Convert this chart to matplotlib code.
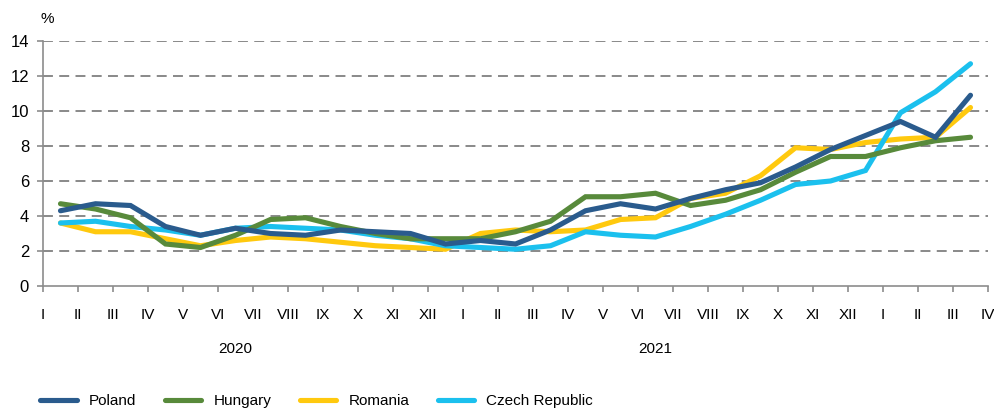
import matplotlib
matplotlib.use("Agg")
import matplotlib.pyplot as plt
import numpy as np

# CPI, y/y %, monthly from I 2020 to III 2022
poland = [4.3, 4.7, 4.6, 3.4, 2.9, 3.3, 3.0, 2.9, 3.2, 3.1, 3.0, 2.4,
          2.6, 2.4, 3.2, 4.3, 4.7, 4.4, 5.0, 5.5, 5.9, 6.8, 7.8, 8.6,
          9.4, 8.5, 10.9]
hungary = [4.7, 4.4, 3.9, 2.4, 2.2, 2.9, 3.8, 3.9, 3.4, 3.0, 2.7, 2.7,
           2.7, 3.1, 3.7, 5.1, 5.1, 5.3, 4.6, 4.9, 5.5, 6.5, 7.4, 7.4,
           7.9, 8.3, 8.5]
romania = [3.6, 3.1, 3.1, 2.7, 2.3, 2.6, 2.8, 2.7, 2.5, 2.3, 2.2, 2.1,
           3.0, 3.2, 3.1, 3.2, 3.8, 3.9, 5.0, 5.3, 6.3, 7.9, 7.8, 8.2,
           8.4, 8.5, 10.2]
czech = [3.6, 3.7, 3.4, 3.2, 2.9, 3.3, 3.4, 3.3, 3.2, 2.9, 2.7, 2.3,
         2.2, 2.1, 2.3, 3.1, 2.9, 2.8, 3.4, 4.1, 4.9, 5.8, 6.0, 6.6,
         9.9, 11.1, 12.7]

months = ["I", "II", "III", "IV", "V", "VI", "VII", "VIII", "IX", "X", "XI", "XII"]
tick_labels = months + months + months[:4]
years = ["2020", "2021"]

series = [
    ("Romania", romania, "#FFC90E"),
    ("Czech Republic", czech, "#1BC0EE"),
    ("Hungary", hungary, "#588A3B"),
    ("Poland", poland, "#2A5B8D"),
]
legend_order = ["Poland", "Hungary", "Romania", "Czech Republic"]

plt.rcParams["font.family"] = ["Liberation Sans Narrow", "Liberation Sans", "DejaVu Sans"]
plt.rcParams["font.size"] = 11

fig = plt.figure(figsize=(9.95, 4.09), dpi=100)
ax = fig.add_axes([43 / 995, 1 - 286 / 409, 945 / 995, 245 / 409])

x = np.arange(len(poland)) + 0.5
lines = {}
for name, vals, color in series:
    (ln,) = ax.plot(x, vals, color=color, lw=3.7, solid_capstyle="round",
                    solid_joinstyle="miter", label=name)
    lines[name] = ln

ax.set_xlim(0, len(tick_labels) - 1)
ax.set_ylim(0, 14)
ax.set_yticks(np.arange(0, 15, 2))
ax.set_xticks(np.arange(len(tick_labels)))
ax.set_xticklabels(tick_labels)

for yv in range(2, 15, 2):
    ax.axhline(yv, color="#808080", lw=1.3, dashes=(5.5, 3.5), zorder=0)

grey = "#8C8C8C"
for side in ["top", "right"]:
    ax.spines[side].set_visible(False)
for side in ["left", "bottom"]:
    ax.spines[side].set_color(grey)
    ax.spines[side].set_linewidth(1.2)
ax.tick_params(axis="y", length=4, width=1.2, color=grey, pad=6, labelsize=12)
ax.tick_params(axis="x", length=4, width=1.2, color=grey, pad=12, labelsize=11)

ax.text(0.005, 1.06, "%", transform=ax.transAxes, fontsize=11, ha="center", va="bottom")

for i, yr in enumerate(years):
    ax.text(5.5 + 12 * i, -3.6, yr, ha="center", va="center", fontsize=11)

fig.legend([lines[n] for n in legend_order], legend_order, loc="center left",
           bbox_to_anchor=(40 / 995, 8 / 409), ncol=4, frameon=False,
           handlelength=2.4, handletextpad=0.8, columnspacing=1.85,
           borderpad=0, borderaxespad=0, fontsize=11)

fig.savefig("out.png", dpi=100)
